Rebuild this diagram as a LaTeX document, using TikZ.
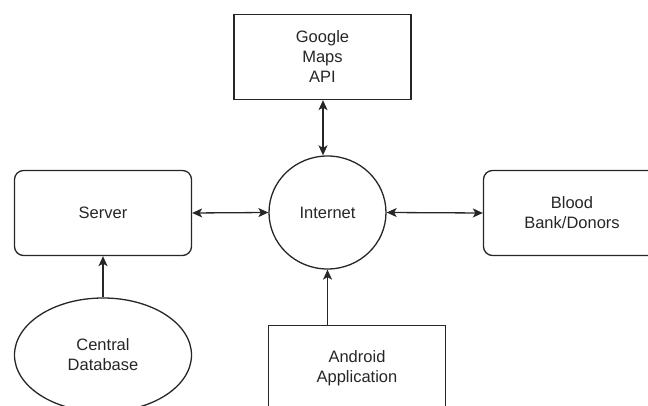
\documentclass[tikz,border=0pt]{standalone}
\usepackage{fontspec}
\setmainfont{Liberation Sans}
\usetikzlibrary{shapes.geometric,arrows.meta}
\begin{document}
\begin{tikzpicture}[x=1pt,y=1pt,
  every node/.style={font=\fontsize{16.5}{20}\selectfont, text=black!85, align=center, line width=1.3pt, draw=black!85},
  box/.style={rectangle, minimum width=177pt, minimum height=85pt, inner sep=0pt},
  rbox/.style={box, rounded corners=9pt},
  oval/.style={ellipse, inner sep=0pt},
  tip/.tip={Stealth[length=10pt,width=9pt,inset=2.5pt]},
  conn/.style={line width=1.3pt, draw=black!85, tip-tip},
  uni/.style={line width=1.3pt, draw=black!85, -tip}]
\useasboundingbox (0,0) rectangle (648,406);
\node[box] (google) at (322.5,349) {Google\\Maps\\API};
\node[oval, minimum width=117pt, minimum height=113pt] (internet) at (327.5,193.5) {Internet};
\node[rbox] (server) at (103,193) {Server};
\node[rbox] (blood) at (572,193) {Blood\\Bank/Donors};
\node[oval, minimum width=177pt, minimum height=114pt] (db) at (103,51) {Central\\Database};
\node[box] (android) at (357,38) {Android\\Application};
\draw[conn] (google.south -| 323,0) -- (internet.north -| 323,0);
\draw[conn] (server.east) -- (internet.west);
\draw[conn] (internet.east) -- (blood.west);
\draw[uni] (db.north) -- (server.south);
\draw[uni] (internet.south |- android.north) -- (internet.south);
\end{tikzpicture}
\end{document}
